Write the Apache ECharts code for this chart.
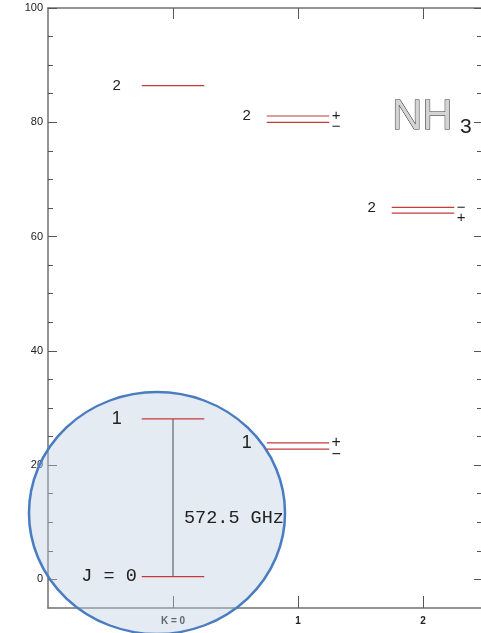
<!DOCTYPE html>
<html>
<head>
<meta charset="utf-8">
<script src="https://cdn.jsdelivr.net/npm/echarts@6/dist/echarts.min.js"></script>
<style>
  html, body { margin: 0; padding: 0; background: #ffffff; }
  #chart { width: 481px; height: 633px; }
</style>
</head>
<body>
<div id="chart"></div>
<script>
// NH3 rotational energy levels (E/k, K) grouped by K ladder
const levelK      = [0,    0,    0,    1,    1,    1,    1,    2,    2];
const levelJ      = [0,    1,    2,    1,    1,    2,    2,    2,    2];
const levelEnergy = [0.5, 28.1, 86.4, 23.9, 22.8, 81.1, 80.0, 65.1, 64.1];
const levelParity = ['',   '',   '',  '+',  '\u2212', '+', '\u2212', '\u2212', '+'];

// Ground-state rotational transition
const transitionK = [0];
const transitionFrom = [0.5];
const transitionTo = [28.1];
const transitionText = ['572.5 GHz'];

// Axis ticks
const xTickValues = [0, 1, 2];
const xTickLabels = ['K = 0', '1', '2'];
const yTickValues = [0, 20, 40, 60, 80, 100];
const yMinorTickValues = [5, 10, 15, 25, 30, 35, 45, 50, 55, 65, 70, 75, 85, 90, 95];

const LEVEL_HALF_WIDTH = 0.25;
const LEVEL_COLOR = '#c43a3a';
const SANS = '"Liberation Sans", Arial, sans-serif';
const MONO = '"Liberation Mono", "DejaVu Sans Mono", monospace';
const AXIS_COLOR = '#707070';
const X_MIN = -1, X_MAX = 2.504;

// one J label per (K, J) step, placed on the upper line of a doublet
const jLabels = [];
levelK.forEach((k, i) => {
  const j = levelJ[i];
  const found = jLabels.find(l => l.k === k && l.j === j);
  if (!found) jLabels.push({ k, j, e: levelEnergy[i] });
  else if (levelEnergy[i] > found.e) found.e = levelEnergy[i];
});

function isLowerOfDoublet(i) {
  return levelK.some((k, m) => m !== i && k === levelK[i] && levelJ[m] === levelJ[i] && levelEnergy[m] > levelEnergy[i]);
}

const chart = echarts.init(document.getElementById('chart'), null, { renderer: 'canvas' });

const axisLine = { show: true, onZero: false, lineStyle: { color: AXIS_COLOR, width: 1.5 } };
const noLine = { show: false, onZero: false };
const tickStyle = { color: '#555', width: 1 };

const option = {
  backgroundColor: '#ffffff',
  animation: false,
  grid: { left: 48, top: 8, width: 438, height: 600, containLabel: false, outerBoundsMode: 'none' },
  xAxis: [
    {
      type: 'value', position: 'bottom', min: X_MIN, max: X_MAX,
      axisLine: axisLine,
      axisTick: { show: true, inside: true, length: 12, customValues: xTickValues, lineStyle: tickStyle },
      axisLabel: {
        show: true, customValues: xTickValues, margin: 8,
        fontSize: 10, fontWeight: 'bold', color: '#222', fontFamily: SANS,
        formatter: v => xTickLabels[xTickValues.indexOf(v)]
      },
      splitLine: { show: false }
    },
    {
      type: 'value', position: 'top', min: X_MIN, max: X_MAX,
      axisLine: axisLine,
      axisTick: { show: true, inside: true, length: 11, customValues: xTickValues, lineStyle: tickStyle },
      axisLabel: { show: false },
      splitLine: { show: false }
    }
  ],
  yAxis: [
    {
      type: 'value', position: 'left', min: -5, max: 100,
      axisLine: axisLine,
      axisTick: { show: true, inside: true, length: 9, customValues: yTickValues, lineStyle: tickStyle },
      axisLabel: { show: true, customValues: yTickValues, margin: 5, fontSize: 11, color: '#222', fontFamily: SANS },
      splitLine: { show: false }
    },
    {
      type: 'value', position: 'left', min: -5, max: 100,
      axisLine: noLine,
      axisTick: { show: true, inside: true, length: 5, customValues: yMinorTickValues, lineStyle: tickStyle },
      axisLabel: { show: false },
      splitLine: { show: false }
    },
    {
      type: 'value', position: 'right', min: -5, max: 100,
      axisLine: axisLine,
      axisTick: { show: true, inside: true, length: 12, customValues: yTickValues, lineStyle: tickStyle },
      axisLabel: { show: false },
      splitLine: { show: false }
    },
    {
      type: 'value', position: 'right', min: -5, max: 100,
      axisLine: noLine,
      axisTick: { show: true, inside: true, length: 9, customValues: yMinorTickValues, lineStyle: tickStyle },
      axisLabel: { show: false },
      splitLine: { show: false }
    }
  ],
  graphic: [
    // magnifier lens over the lowest levels
    {
      type: 'circle', z: 1,
      x: 157, y: 513, scaleX: 1.058, scaleY: 1,
      shape: { cx: 0, cy: 0, r: 121 },
      style: { fill: 'rgba(190,204,224,0.40)', stroke: '#4a7dc0', lineWidth: 2.4 }
    },
    {
      type: 'text', z: 10, x: 392, y: 96,
      style: { text: 'NH', fontSize: 42, fontFamily: SANS, fill: '#d4d4d4', stroke: '#2a2a2a', lineWidth: 1.0 }
    },
    {
      type: 'text', z: 10, x: 460, y: 117,
      style: { text: '3', fontSize: 21, fontFamily: SANS, fill: '#222' }
    }
  ],
  series: [
    {
      name: 'levels', type: 'custom', coordinateSystem: 'cartesian2d', z: 5,
      data: levelK.map((k, i) => [k, levelEnergy[i], i]),
      renderItem(params, api) {
        const k = api.value(0), e = api.value(1), i = api.value(2);
        const a = api.coord([k - LEVEL_HALF_WIDTH, e]);
        const b = api.coord([k + LEVEL_HALF_WIDTH, e]);
        const children = [{
          type: 'line',
          shape: { x1: a[0], y1: a[1], x2: b[0], y2: b[1] },
          style: { stroke: LEVEL_COLOR, lineWidth: 1.2 }
        }];
        const sign = levelParity[i];
        if (sign) {
          const lower = isLowerOfDoublet(i);
          const big = levelJ[i] <= 1;
          children.push({
            type: 'text', x: b[0] + 7, y: a[1] + (lower ? 5 : 0),
            style: { text: sign, fontSize: big ? 16 : 15, fontFamily: SANS, fill: '#222', align: 'center', verticalAlign: 'middle' }
          });
        }
        return { type: 'group', children };
      }
    },
    {
      name: 'J labels', type: 'custom', coordinateSystem: 'cartesian2d', z: 6,
      data: jLabels.map(l => [l.k, l.e, l.j]),
      renderItem(params, api) {
        const k = api.value(0), e = api.value(1), j = api.value(2);
        const a = api.coord([k - LEVEL_HALF_WIDTH, e]);
        if (j === 0) {
          return {
            type: 'text', x: a[0] - 5, y: a[1],
            style: { text: 'J = 0', fontSize: 18.5, fontFamily: MONO, fill: '#222', align: 'right', verticalAlign: 'middle' }
          };
        }
        const big = j <= 1;
        return {
          type: 'text', x: a[0] - (k === 0 ? 25 : 20), y: a[1],
          style: { text: String(j), fontSize: big ? 18 : 15, fontFamily: SANS, fill: '#222', align: 'center', verticalAlign: 'middle' }
        };
      }
    },
    {
      name: 'transition', type: 'custom', coordinateSystem: 'cartesian2d', z: 4,
      data: transitionK.map((k, i) => [k, transitionFrom[i], transitionTo[i], i]),
      renderItem(params, api) {
        const k = api.value(0), i = api.value(3);
        const p0 = api.coord([k, api.value(1)]);
        const p1 = api.coord([k, api.value(2)]);
        return {
          type: 'group',
          children: [
            { type: 'line', shape: { x1: p0[0], y1: p0[1], x2: p1[0], y2: p1[1] }, style: { stroke: '#4a4a4a', lineWidth: 1 } },
            {
              type: 'text', x: p0[0] + 11, y: (p0[1] + p1[1]) / 2 + 20,
              style: { text: transitionText[i], fontSize: 18.5, fontFamily: MONO, fill: '#222', align: 'left', verticalAlign: 'middle' }
            }
          ]
        };
      }
    }
  ]
};

chart.setOption(option);
</script>
</body>
</html>
